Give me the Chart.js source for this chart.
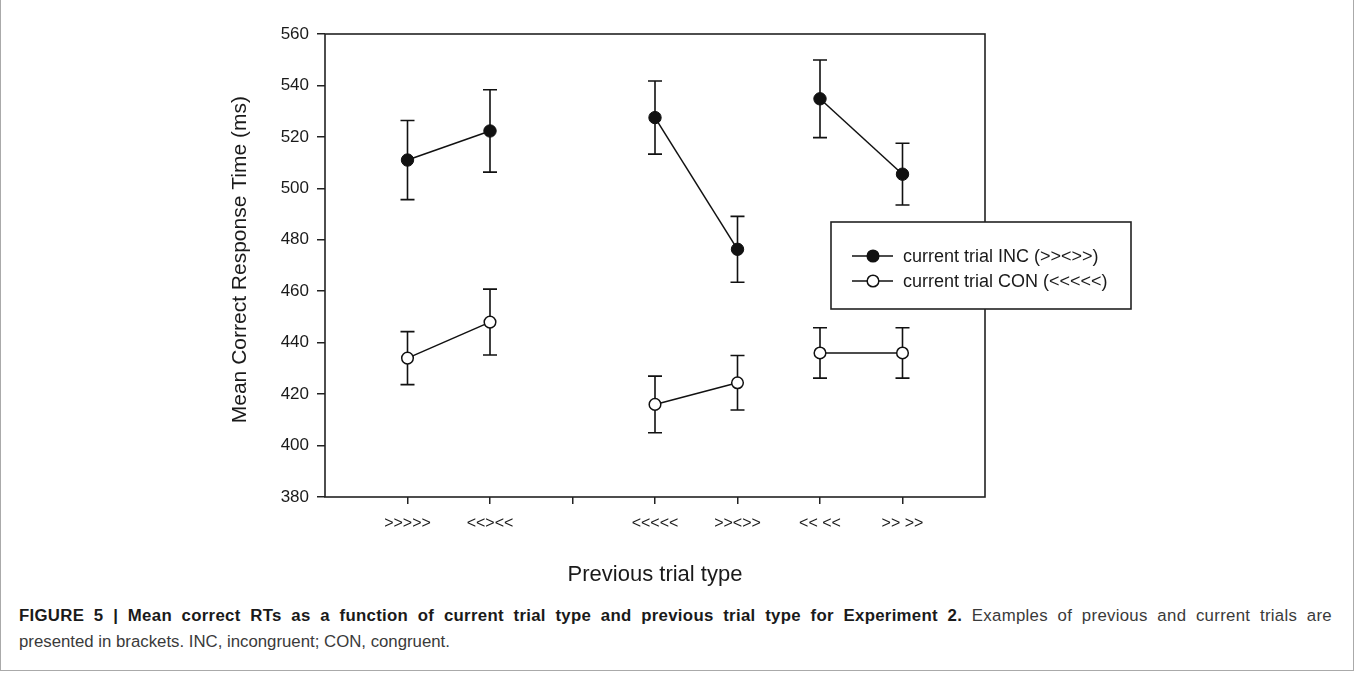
<!DOCTYPE html>
<html>
<head>
<meta charset="utf-8">
<script src="https://cdn.jsdelivr.net/npm/chart.js@4/dist/chart.umd.min.js"></script>
<style>
  html, body { margin: 0; padding: 0; background: #fff; }
  #frame { position: absolute; left: 0; top: 0; width: 1352px; height: 670px; border: 1px solid #aaa; border-top: none; }
  #wrap { position: absolute; left: 0; top: 0; width: 1354px; height: 590px; }
  #caption { position: absolute; left: 19px; top: 603px; width: 1313px; font-family: "Liberation Sans", Arial, sans-serif; font-size: 16.8px; line-height: 26px; color: #3a3a3a; }
  #caption .l1 { text-align: justify; text-align-last: justify; white-space: nowrap; letter-spacing: 0.3px; }
  #caption b { color: #1a1a1a; }
</style>
</head>
<body>
<div id="frame"></div>
<div id="wrap"><canvas id="c" width="1354" height="590"></canvas></div>
<div id="caption"><div class="l1"><b>FIGURE 5 | Mean correct RTs as a function of current trial type and previous trial type for Experiment 2.</b> Examples of previous and current trials are</div><div>presented in brackets. INC, incongruent; CON, congruent.</div></div>
<script>
// ---- data ----
const categories = ['', '>>>>>', '<<><<', '', '<<<<<', '>><>>', '<< <<', '>> >>', ''];
const pairGroup  = ['', 'a', 'a', '', 'b', 'b', 'c', 'c', ''];
const incMeans = [null, 511, 522.3, null, 527.5, 476.3, 534.8, 505.5, null];
const incErr   = [null, 15.4, 16, null, 14.2, 12.8, 15.1, 12, null];
const conMeans = [null, 434, 448, null, 416, 424.4, 436, 436, null];
const conErr   = [null, 10.3, 12.8, null, 11, 10.6, 9.8, 9.8, null];
const seriesNames = ['current trial INC (>><>>)', 'current trial CON (<<<<<)'];
const yTicks = { min: 380, max: 560, step: 20 };
const xTitle = 'Previous trial type';
const yTitle = 'Mean Correct Response Time (ms)';

const FONT = '"Liberation Sans", Arial, sans-serif';

const segColor = ctx => pairGroup[ctx.p0DataIndex] !== '' && pairGroup[ctx.p0DataIndex] === pairGroup[ctx.p1DataIndex] ? '#111' : 'rgba(0,0,0,0)';

const errorBars = {
  id: 'errorBars',
  beforeDatasetsDraw(chart) {
    const ctx = chart.ctx;
    const ys = chart.scales.y;
    ctx.save();
    ctx.strokeStyle = '#111';
    ctx.lineWidth = 1.6;
    chart.data.datasets.forEach((ds, di) => {
      const meta = chart.getDatasetMeta(di);
      meta.data.forEach((pt, i) => {
        const v = ds.data[i], e = ds.errors[i];
        if (v == null || e == null) return;
        const x = pt.x;
        const yTop = ys.getPixelForValue(v + e);
        const yBot = ys.getPixelForValue(v - e);
        ctx.beginPath();
        ctx.moveTo(x, yTop); ctx.lineTo(x, yBot);
        ctx.moveTo(x - 7, yTop); ctx.lineTo(x + 7, yTop);
        ctx.moveTo(x - 7, yBot); ctx.lineTo(x + 7, yBot);
        ctx.stroke();
      });
    });
    ctx.restore();
  }
};

const frameAndLegend = {
  id: 'frameAndLegend',
  afterDraw(chart) {
    const ctx = chart.ctx;
    const a = chart.chartArea;
    ctx.save();
    ctx.strokeStyle = '#222';
    ctx.lineWidth = 1.6;
    ctx.strokeRect(a.left, a.top, a.right - a.left, a.bottom - a.top);
    // legend box
    const bx = 831, by = 222, bw = 300, bh = 87;
    ctx.fillStyle = '#fff';
    ctx.fillRect(bx, by, bw, bh);
    ctx.strokeRect(bx, by, bw, bh);
    const rows = [256, 281];
    chart.data.datasets.forEach((ds, i) => {
      const y = rows[i];
      ctx.strokeStyle = '#111';
      ctx.lineWidth = 1.4;
      ctx.beginPath(); ctx.moveTo(852, y); ctx.lineTo(893, y); ctx.stroke();
      ctx.beginPath(); ctx.arc(873, y, 5.8, 0, Math.PI * 2);
      ctx.fillStyle = ds.pointBackgroundColor; ctx.fill();
      ctx.lineWidth = 1.5; ctx.stroke();
      ctx.fillStyle = '#1a1a1a';
      ctx.font = '18px ' + FONT;
      ctx.textBaseline = 'middle';
      ctx.textAlign = 'left';
      ctx.fillText(ds.label, 903, y + 1);
    });
    ctx.restore();
  }
};

new Chart(document.getElementById('c'), {
  type: 'line',
  data: {
    labels: categories,
    datasets: [
      { label: seriesNames[0], data: incMeans, errors: incErr,
        borderColor: '#111', borderWidth: 1.5, pointRadius: 6.2, pointHoverRadius: 6.2,
        pointBackgroundColor: '#111', pointBorderColor: '#111', pointBorderWidth: 1,
        spanGaps: false, segment: { borderColor: segColor } },
      { label: seriesNames[1], data: conMeans, errors: conErr,
        borderColor: '#111', borderWidth: 1.5, pointRadius: 5.8, pointHoverRadius: 5.8,
        pointBackgroundColor: '#fff', pointBorderColor: '#111', pointBorderWidth: 1.5,
        spanGaps: false, segment: { borderColor: segColor } }
    ]
  },
  options: {
    responsive: false,
    animation: false,
    devicePixelRatio: 1,
    layout: { padding: { left: 226, right: 369, top: 34, bottom: 0 } },
    plugins: { legend: { display: false }, tooltip: { enabled: false } },
    scales: {
      x: {
        type: 'category',
        offset: false,
        afterFit(s) { s.height = 93; },
        border: { display: false },
        grid: {
          drawOnChartArea: false, drawTicks: true, tickLength: 7, lineWidth: 1.5,
          color: c => (c.index === 0 || c.index === categories.length - 1) ? 'rgba(0,0,0,0)' : '#222'
        },
        ticks: { color: '#1a1a1a', font: { family: FONT, size: 16 }, padding: 10, maxRotation: 0, autoSkip: false },
        title: { display: true, text: xTitle, color: '#1a1a1a', font: { family: FONT, size: 22 }, padding: { top: 0, bottom: 2 } }
      },
      y: {
        min: yTicks.min, max: yTicks.max,
        afterFit(s) { s.width = 99; },
        border: { display: false },
        grid: { drawOnChartArea: false, drawTicks: true, tickLength: 8, lineWidth: 1.5, color: '#222' },
        ticks: { stepSize: yTicks.step, color: '#1a1a1a', font: { family: FONT, size: 17 }, padding: 8 },
        title: { display: true, text: '  ' + yTitle, color: '#1a1a1a', font: { family: FONT, size: 21 }, padding: { top: 2, bottom: 0 } }
      }
    }
  },
  plugins: [errorBars, frameAndLegend]
});
</script>
</body>
</html>
